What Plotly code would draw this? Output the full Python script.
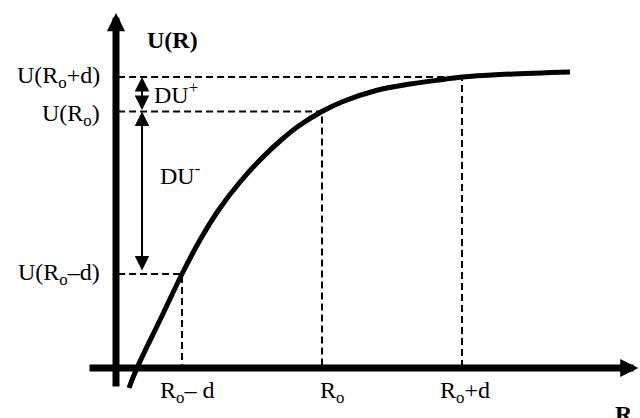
import plotly.graph_objects as go

# Curva U(R) (unidades arbitrarias)
R_curva = [0.243, 0.357, 0.686, 1.0, 1.257, 1.543, 1.829, 2.114, 2.4, 2.686,
           3.0, 3.3, 3.8, 4.257, 4.729, 5.0, 5.543, 6.543]
U_curva = [-2.0, 0.0, 4.8, 9.4, 12.8, 16.0, 18.6, 20.8, 22.7, 24.3,
           25.65, 26.65, 27.8, 28.4, 28.85, 29.1, 29.35, 29.6]

# Puntos marcados: Ro-d, Ro, Ro+d
R_marcas = [1.0, 3.0, 5.0]
U_marcas = [9.4, 25.65, 29.1]
etiquetas_R = ["R<sub>o</sub>– d", "R<sub>o</sub>", "R<sub>o</sub>+d"]
etiquetas_U = ["U(R<sub>o</sub>–d)", "U(R<sub>o</sub>)", "U(R<sub>o</sub>+d)"]

EJE_R = 0.057   # posición del eje vertical
FUENTE = dict(family="Liberation Serif", size=24, color="black")

fig = go.Figure()

# ──────────────────────────────────────────────
# líneas punteadas de referencia
# ──────────────────────────────────────────────
for r, u in zip(R_marcas, U_marcas):
    fig.add_trace(go.Scatter(
        x=[EJE_R + 0.03, r, r], y=[u, u, 0],
        mode="lines", line=dict(color="black", width=2, dash="7px,4px"),
        hoverinfo="skip"
    ))

# curva
fig.add_trace(go.Scatter(
    x=R_curva, y=U_curva, mode="lines",
    line=dict(color="black", width=5, shape="spline", smoothing=1.0),
    hoverinfo="skip"
))

flechas = []
# ejes con flecha
flechas.append(dict(x=EJE_R, y=35.5, ax=EJE_R, ay=-2.0,
                    arrowwidth=7, arrowsize=0.52, arrowhead=2))
flechas.append(dict(x=7.52, y=0, ax=-0.343, ay=0,
                    arrowwidth=7, arrowsize=0.52, arrowhead=2))
# DU+ y DU-
flechas.append(dict(x=0.429, y=U_marcas[2], ax=0.429, ay=U_marcas[1],
                    arrowwidth=2, arrowsize=1.45, arrowhead=2,
                    arrowside="end+start", startarrowhead=2, startarrowsize=1.45))
flechas.append(dict(x=0.429, y=U_marcas[1], ax=0.429, ay=U_marcas[0] + 0.2,
                    arrowwidth=2, arrowsize=1.45, arrowhead=2,
                    arrowside="end+start", startarrowhead=2, startarrowsize=1.45))

for f in flechas:
    fig.add_annotation(text="", xref="x", yref="y", axref="x", ayref="y",
                       showarrow=True, arrowcolor="black", standoff=0, **f)

# textos
textos = [
    dict(x=-0.143, y=U_marcas[0], text=etiquetas_U[0], xanchor="right"),
    dict(x=-0.143, y=U_marcas[1] - 0.35, text=etiquetas_U[1], xanchor="right"),
    dict(x=-0.143, y=U_marcas[2], text=etiquetas_U[2], xanchor="right"),
    dict(x=1.071, y=-2.4, text=etiquetas_R[0], xanchor="center"),
    dict(x=3.143, y=-2.4, text=etiquetas_R[1], xanchor="center"),
    dict(x=5.043, y=-2.4, text=etiquetas_R[2], xanchor="center"),
    dict(x=0.571, y=27.5, text="DU<sup>+</sup>", xanchor="left"),
    dict(x=0.657, y=19.4, text="DU<sup>-</sup>", xanchor="left"),
    dict(x=0.871, y=32.8, text="<b>U(R)</b>", xanchor="center"),
    dict(x=7.32, y=-3.1, text="<b>R</b>", xanchor="center", yanchor="top"),
]
for t in textos:
    t.setdefault("yanchor", "middle")
    fig.add_annotation(xref="x", yref="y", showarrow=False, font=FUENTE, **t)

fig.update_layout(
    width=640, height=418,
    margin=dict(l=0, r=0, t=0, b=0),
    plot_bgcolor="white", paper_bgcolor="white",
    showlegend=False,
    xaxis=dict(range=[-1.6, 7.543], visible=False, fixedrange=True),
    yaxis=dict(range=[-5.0, 36.8], visible=False, fixedrange=True),
)

# sin margen del body para que la figura ocupe toda la ventana
fig.write_html("out.html", config={"displayModeBar": False},
               post_script="document.body.style.margin='0px';")
